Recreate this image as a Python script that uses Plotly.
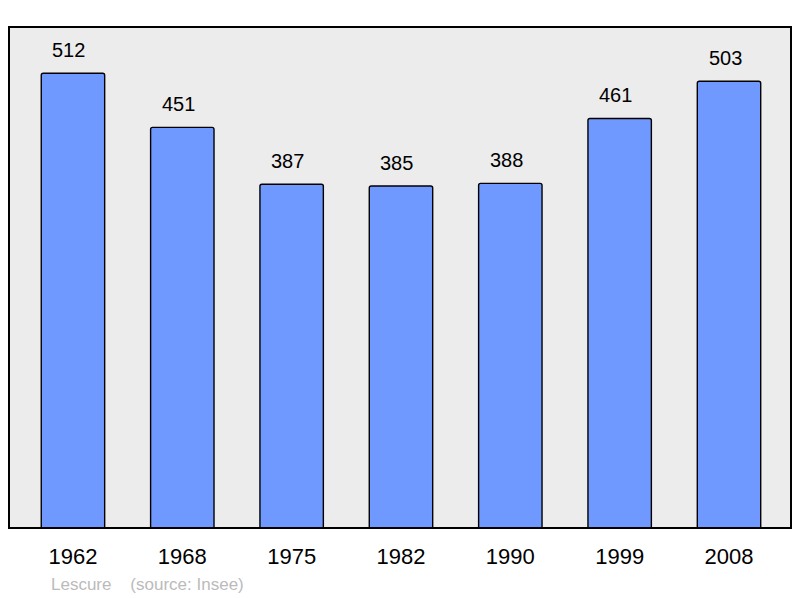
import plotly.graph_objects as go

years = ["1962", "1968", "1975", "1982", "1990", "1999", "2008"]
population = [512, 451, 387, 385, 388, 461, 503]

fig = go.Figure()
fig.add_trace(go.Bar(
    x=years, y=population,
    width=0.58,
    marker=dict(color="#7099ff", line=dict(color="#000000", width=1.4), cornerradius=2),
    hoverinfo="skip",
))

annotations = [dict(
    x=i, y=v, xref="x", yref="y", text=str(v), showarrow=False,
    xanchor="center", yanchor="bottom", yshift=10, xshift=-4,
    font=dict(family="Liberation Sans, Arial", size=20, color="#000000"),
) for i, v in enumerate(population)]

annotations.append(dict(
    text="Lescure    (source: Insee)", xref="paper", yref="paper",
    x=(49 - 9) / 782, y=-56 / 501, xanchor="left", yanchor="middle",
    showarrow=False,
    font=dict(family="Liberation Sans, Arial", size=17, color="#bbbbbb"),
))

fig.update_layout(
    width=800, height=598,
    margin=dict(l=9, r=9, t=27, b=70),
    paper_bgcolor="#ffffff",
    plot_bgcolor="#ececec",
    showlegend=False,
    xaxis=dict(
        type="category", range=[-0.585, 6.567],
        showgrid=False, zeroline=False, showline=False,
        ticks="", ticklabelstandoff=13,
        tickfont=dict(family="Liberation Sans, Arial", size=22, color="#000000"),
    ),
    yaxis=dict(
        range=[0, 564], showgrid=False, zeroline=False, showline=False,
        showticklabels=False, ticks="",
    ),
    shapes=[dict(
        type="rect", xref="paper", yref="paper", x0=0, x1=1, y0=0, y1=1,
        line=dict(color="#000000", width=2), fillcolor="rgba(0,0,0,0)", layer="above",
    )],
    annotations=annotations,
)

fig.write_html("out.html", config={"displayModeBar": False},
               post_script="document.body.style.margin='0';")
